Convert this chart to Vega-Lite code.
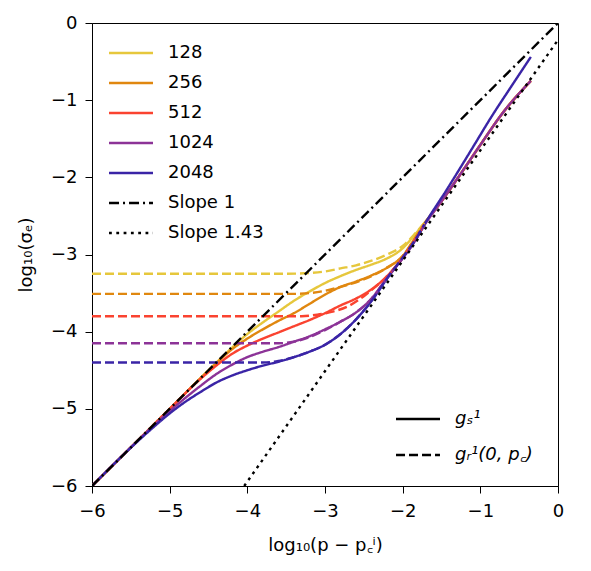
{
  "$schema": "https://vega.github.io/schema/vega-lite/v6.json",
  "width": 466,
  "height": 463,
  "autosize": {"type": "none"},
  "padding": {"left": 92, "top": 23, "right": 33, "bottom": 85},
  "background": "white",
  "config": {
    "font": "DejaVu Sans",
    "view": {"stroke": "black", "strokeWidth": 1},
    "axis": {"domainColor": "black", "tickColor": "black", "tickSize": 7, "labelFontSize": 18, "titleFontSize": 18, "labelColor": "black", "titleColor": "black", "titleFontWeight": "normal", "grid": false, "labelFont": "DejaVu Sans", "titleFont": "DejaVu Sans", "labelFlush": false, "format": "d"},
    "axisX": {"labelPadding": 9, "titlePadding": 16},
    "axisY": {"labelPadding": 8, "titlePadding": 15},
    "legend": {"labelFont": "DejaVu Sans", "labelFontSize": 18, "labelColor": "black", "padding": 0, "rowPadding": 12}
  },
  "datasets": {
    "slopes": [
      {"series": "Slope 1", "x": -6, "y": -6},
      {"series": "Slope 1", "x": 0, "y": 0},
      {"series": "Slope 1.43", "x": -4.04, "y": -6},
      {"series": "Slope 1.43", "x": 0, "y": -0.22}
    ],
    "curves": [
      {"series": "128", "kind": "gs", "x": -6, "y": -6},
      {"series": "128", "kind": "gs", "x": -5, "y": -5},
      {"series": "128", "kind": "gs", "x": -4.5, "y": -4.5},
      {"series": "128", "kind": "gs", "x": -4.2, "y": -4.21},
      {"series": "128", "kind": "gs", "x": -4.0, "y": -4.03},
      {"series": "128", "kind": "gs", "x": -3.8, "y": -3.88},
      {"series": "128", "kind": "gs", "x": -3.6, "y": -3.74},
      {"series": "128", "kind": "gs", "x": -3.4, "y": -3.6},
      {"series": "128", "kind": "gs", "x": -3.2, "y": -3.48},
      {"series": "128", "kind": "gs", "x": -3.0, "y": -3.37},
      {"series": "128", "kind": "gs", "x": -2.8, "y": -3.28},
      {"series": "128", "kind": "gs", "x": -2.6, "y": -3.2},
      {"series": "128", "kind": "gs", "x": -2.4, "y": -3.13},
      {"series": "128", "kind": "gs", "x": -2.2, "y": -3.05},
      {"series": "128", "kind": "gs", "x": -2.0, "y": -2.92},
      {"series": "128", "kind": "gs", "x": -1.85, "y": -2.75},
      {"series": "128", "kind": "gs", "x": -1.72, "y": -2.59},
      {"series": "128", "kind": "gs", "x": -1.5, "y": -2.31},
      {"series": "128", "kind": "gs", "x": -1.25, "y": -1.95},
      {"series": "128", "kind": "gs", "x": -1.0, "y": -1.58},
      {"series": "128", "kind": "gs", "x": -0.7, "y": -1.15},
      {"series": "128", "kind": "gs", "x": -0.35, "y": -0.75},

      {"series": "256", "kind": "gs", "x": -6, "y": -6},
      {"series": "256", "kind": "gs", "x": -5, "y": -5},
      {"series": "256", "kind": "gs", "x": -4.6, "y": -4.6},
      {"series": "256", "kind": "gs", "x": -4.4, "y": -4.41},
      {"series": "256", "kind": "gs", "x": -4.2, "y": -4.23},
      {"series": "256", "kind": "gs", "x": -4.0, "y": -4.09},
      {"series": "256", "kind": "gs", "x": -3.8, "y": -3.97},
      {"series": "256", "kind": "gs", "x": -3.6, "y": -3.86},
      {"series": "256", "kind": "gs", "x": -3.4, "y": -3.76},
      {"series": "256", "kind": "gs", "x": -3.2, "y": -3.64},
      {"series": "256", "kind": "gs", "x": -3.0, "y": -3.52},
      {"series": "256", "kind": "gs", "x": -2.8, "y": -3.42},
      {"series": "256", "kind": "gs", "x": -2.6, "y": -3.35},
      {"series": "256", "kind": "gs", "x": -2.4, "y": -3.27},
      {"series": "256", "kind": "gs", "x": -2.2, "y": -3.17},
      {"series": "256", "kind": "gs", "x": -2.0, "y": -3.02},
      {"series": "256", "kind": "gs", "x": -1.85, "y": -2.8},
      {"series": "256", "kind": "gs", "x": -1.72, "y": -2.6},
      {"series": "256", "kind": "gs", "x": -1.5, "y": -2.31},
      {"series": "256", "kind": "gs", "x": -1.25, "y": -1.95},
      {"series": "256", "kind": "gs", "x": -1.0, "y": -1.58},
      {"series": "256", "kind": "gs", "x": -0.7, "y": -1.15},
      {"series": "256", "kind": "gs", "x": -0.35, "y": -0.75},

      {"series": "512", "kind": "gs", "x": -6, "y": -6},
      {"series": "512", "kind": "gs", "x": -5, "y": -5},
      {"series": "512", "kind": "gs", "x": -4.8, "y": -4.8},
      {"series": "512", "kind": "gs", "x": -4.6, "y": -4.61},
      {"series": "512", "kind": "gs", "x": -4.4, "y": -4.44},
      {"series": "512", "kind": "gs", "x": -4.2, "y": -4.29},
      {"series": "512", "kind": "gs", "x": -4.0, "y": -4.18},
      {"series": "512", "kind": "gs", "x": -3.8, "y": -4.09},
      {"series": "512", "kind": "gs", "x": -3.6, "y": -4.01},
      {"series": "512", "kind": "gs", "x": -3.4, "y": -3.93},
      {"series": "512", "kind": "gs", "x": -3.2, "y": -3.85},
      {"series": "512", "kind": "gs", "x": -3.0, "y": -3.76},
      {"series": "512", "kind": "gs", "x": -2.8, "y": -3.66},
      {"series": "512", "kind": "gs", "x": -2.6, "y": -3.57},
      {"series": "512", "kind": "gs", "x": -2.4, "y": -3.45},
      {"series": "512", "kind": "gs", "x": -2.2, "y": -3.28},
      {"series": "512", "kind": "gs", "x": -2.0, "y": -3.04},
      {"series": "512", "kind": "gs", "x": -1.85, "y": -2.82},
      {"series": "512", "kind": "gs", "x": -1.72, "y": -2.61},
      {"series": "512", "kind": "gs", "x": -1.5, "y": -2.31},
      {"series": "512", "kind": "gs", "x": -1.25, "y": -1.95},
      {"series": "512", "kind": "gs", "x": -1.0, "y": -1.58},
      {"series": "512", "kind": "gs", "x": -0.7, "y": -1.15},
      {"series": "512", "kind": "gs", "x": -0.35, "y": -0.75},

      {"series": "1024", "kind": "gs", "x": -6, "y": -6},
      {"series": "1024", "kind": "gs", "x": -5.4, "y": -5.4},
      {"series": "1024", "kind": "gs", "x": -5.2, "y": -5.21},
      {"series": "1024", "kind": "gs", "x": -5.0, "y": -5.03},
      {"series": "1024", "kind": "gs", "x": -4.8, "y": -4.86},
      {"series": "1024", "kind": "gs", "x": -4.6, "y": -4.7},
      {"series": "1024", "kind": "gs", "x": -4.4, "y": -4.55},
      {"series": "1024", "kind": "gs", "x": -4.2, "y": -4.43},
      {"series": "1024", "kind": "gs", "x": -4.0, "y": -4.33},
      {"series": "1024", "kind": "gs", "x": -3.8, "y": -4.26},
      {"series": "1024", "kind": "gs", "x": -3.6, "y": -4.2},
      {"series": "1024", "kind": "gs", "x": -3.4, "y": -4.13},
      {"series": "1024", "kind": "gs", "x": -3.2, "y": -4.06},
      {"series": "1024", "kind": "gs", "x": -3.0, "y": -3.97},
      {"series": "1024", "kind": "gs", "x": -2.8, "y": -3.87},
      {"series": "1024", "kind": "gs", "x": -2.6, "y": -3.75},
      {"series": "1024", "kind": "gs", "x": -2.4, "y": -3.57},
      {"series": "1024", "kind": "gs", "x": -2.2, "y": -3.3},
      {"series": "1024", "kind": "gs", "x": -2.0, "y": -3.05},
      {"series": "1024", "kind": "gs", "x": -1.85, "y": -2.84},
      {"series": "1024", "kind": "gs", "x": -1.72, "y": -2.62},
      {"series": "1024", "kind": "gs", "x": -1.5, "y": -2.31},
      {"series": "1024", "kind": "gs", "x": -1.25, "y": -1.95},
      {"series": "1024", "kind": "gs", "x": -1.0, "y": -1.58},
      {"series": "1024", "kind": "gs", "x": -0.7, "y": -1.15},
      {"series": "1024", "kind": "gs", "x": -0.35, "y": -0.75},

      {"series": "2048", "kind": "gs", "x": -6, "y": -6},
      {"series": "2048", "kind": "gs", "x": -5.6, "y": -5.6},
      {"series": "2048", "kind": "gs", "x": -5.4, "y": -5.41},
      {"series": "2048", "kind": "gs", "x": -5.2, "y": -5.23},
      {"series": "2048", "kind": "gs", "x": -5.0, "y": -5.06},
      {"series": "2048", "kind": "gs", "x": -4.8, "y": -4.91},
      {"series": "2048", "kind": "gs", "x": -4.6, "y": -4.78},
      {"series": "2048", "kind": "gs", "x": -4.4, "y": -4.66},
      {"series": "2048", "kind": "gs", "x": -4.2, "y": -4.57},
      {"series": "2048", "kind": "gs", "x": -4.0, "y": -4.5},
      {"series": "2048", "kind": "gs", "x": -3.8, "y": -4.44},
      {"series": "2048", "kind": "gs", "x": -3.6, "y": -4.39},
      {"series": "2048", "kind": "gs", "x": -3.4, "y": -4.33},
      {"series": "2048", "kind": "gs", "x": -3.2, "y": -4.26},
      {"series": "2048", "kind": "gs", "x": -3.0, "y": -4.17},
      {"series": "2048", "kind": "gs", "x": -2.8, "y": -4.03},
      {"series": "2048", "kind": "gs", "x": -2.6, "y": -3.84},
      {"series": "2048", "kind": "gs", "x": -2.4, "y": -3.6},
      {"series": "2048", "kind": "gs", "x": -2.2, "y": -3.31},
      {"series": "2048", "kind": "gs", "x": -2.0, "y": -3.04},
      {"series": "2048", "kind": "gs", "x": -1.85, "y": -2.83},
      {"series": "2048", "kind": "gs", "x": -1.72, "y": -2.61},
      {"series": "2048", "kind": "gs", "x": -1.42, "y": -2.14},
      {"series": "2048", "kind": "gs", "x": -1.09, "y": -1.6},
      {"series": "2048", "kind": "gs", "x": -0.86, "y": -1.22},
      {"series": "2048", "kind": "gs", "x": -0.6, "y": -0.82},
      {"series": "2048", "kind": "gs", "x": -0.35, "y": -0.44},

      {"series": "128", "kind": "gr", "x": -6, "y": -3.25},
      {"series": "128", "kind": "gr", "x": -3.5, "y": -3.25},
      {"series": "128", "kind": "gr", "x": -3.2, "y": -3.24},
      {"series": "128", "kind": "gr", "x": -3.0, "y": -3.22},
      {"series": "128", "kind": "gr", "x": -2.8, "y": -3.18},
      {"series": "128", "kind": "gr", "x": -2.6, "y": -3.14},
      {"series": "128", "kind": "gr", "x": -2.4, "y": -3.08},
      {"series": "128", "kind": "gr", "x": -2.2, "y": -3.0},
      {"series": "128", "kind": "gr", "x": -2.0, "y": -2.89},
      {"series": "128", "kind": "gr", "x": -1.85, "y": -2.74},
      {"series": "128", "kind": "gr", "x": -1.72, "y": -2.59},

      {"series": "256", "kind": "gr", "x": -6, "y": -3.51},
      {"series": "256", "kind": "gr", "x": -3.4, "y": -3.51},
      {"series": "256", "kind": "gr", "x": -3.2, "y": -3.5},
      {"series": "256", "kind": "gr", "x": -3.0, "y": -3.47},
      {"series": "256", "kind": "gr", "x": -2.8, "y": -3.42},
      {"series": "256", "kind": "gr", "x": -2.6, "y": -3.36},
      {"series": "256", "kind": "gr", "x": -2.4, "y": -3.28},
      {"series": "256", "kind": "gr", "x": -2.2, "y": -3.17},
      {"series": "256", "kind": "gr", "x": -2.0, "y": -3.02},
      {"series": "256", "kind": "gr", "x": -1.85, "y": -2.8},
      {"series": "256", "kind": "gr", "x": -1.72, "y": -2.6},

      {"series": "512", "kind": "gr", "x": -6, "y": -3.8},
      {"series": "512", "kind": "gr", "x": -3.3, "y": -3.8},
      {"series": "512", "kind": "gr", "x": -3.1, "y": -3.78},
      {"series": "512", "kind": "gr", "x": -2.9, "y": -3.74},
      {"series": "512", "kind": "gr", "x": -2.7, "y": -3.67},
      {"series": "512", "kind": "gr", "x": -2.5, "y": -3.54},
      {"series": "512", "kind": "gr", "x": -2.4, "y": -3.46},
      {"series": "512", "kind": "gr", "x": -2.2, "y": -3.28},
      {"series": "512", "kind": "gr", "x": -2.0, "y": -3.04},
      {"series": "512", "kind": "gr", "x": -1.85, "y": -2.82},
      {"series": "512", "kind": "gr", "x": -1.72, "y": -2.61},

      {"series": "1024", "kind": "gr", "x": -6, "y": -4.15},
      {"series": "1024", "kind": "gr", "x": -3.6, "y": -4.15},
      {"series": "1024", "kind": "gr", "x": -3.4, "y": -4.13},
      {"series": "1024", "kind": "gr", "x": -3.2, "y": -4.07},
      {"series": "1024", "kind": "gr", "x": -3.0, "y": -3.98},
      {"series": "1024", "kind": "gr", "x": -2.8, "y": -3.87},
      {"series": "1024", "kind": "gr", "x": -2.6, "y": -3.75},
      {"series": "1024", "kind": "gr", "x": -2.4, "y": -3.57},
      {"series": "1024", "kind": "gr", "x": -2.2, "y": -3.3},
      {"series": "1024", "kind": "gr", "x": -2.0, "y": -3.05},
      {"series": "1024", "kind": "gr", "x": -1.85, "y": -2.84},
      {"series": "1024", "kind": "gr", "x": -1.72, "y": -2.62},

      {"series": "2048", "kind": "gr", "x": -6, "y": -4.4},
      {"series": "2048", "kind": "gr", "x": -3.8, "y": -4.4},
      {"series": "2048", "kind": "gr", "x": -3.6, "y": -4.38},
      {"series": "2048", "kind": "gr", "x": -3.4, "y": -4.33},
      {"series": "2048", "kind": "gr", "x": -3.2, "y": -4.26},
      {"series": "2048", "kind": "gr", "x": -3.0, "y": -4.17},
      {"series": "2048", "kind": "gr", "x": -2.8, "y": -4.03},
      {"series": "2048", "kind": "gr", "x": -2.6, "y": -3.84},
      {"series": "2048", "kind": "gr", "x": -2.4, "y": -3.6},
      {"series": "2048", "kind": "gr", "x": -2.2, "y": -3.31},
      {"series": "2048", "kind": "gr", "x": -2.0, "y": -3.04},
      {"series": "2048", "kind": "gr", "x": -1.85, "y": -2.83},
      {"series": "2048", "kind": "gr", "x": -1.72, "y": -2.61}
    ]
  },
  "layer": [
    {
      "layer": [
        {
          "data": {"name": "curves"},
          "transform": [{"filter": "datum.kind == 'gs'"}],
          "mark": {"type": "line", "strokeWidth": 2.4, "clip": true, "color": "black", "interpolate": "monotone"},
          "encoding": {
            "x": {"field": "x", "type": "quantitative", "scale": {"domain": [-6, 0], "nice": false, "zero": false}, "axis": {"values": [-6, -5, -4, -3, -2, -1, 0], "title": "log₁₀(p − p꜀ⁱ)"}},
            "y": {"field": "y", "type": "quantitative", "scale": {"domain": [-6, 0], "nice": false, "zero": false}, "axis": {"values": [-6, -5, -4, -3, -2, -1, 0], "title": "log₁₀(σₑ)"}},
            "color": {"field": "series", "type": "nominal", "scale": {"domain": ["128", "256", "512", "1024", "2048", "Slope 1", "Slope 1.43"], "range": ["#E6C73C", "#E0870F", "#FA4330", "#8C3397", "#3A24A6", "black", "black"]}, "legend": null},
            "strokeDash": {"field": "kind", "type": "nominal", "title": null, "scale": {"domain": ["gs", "gr"], "range": [[1, 0], [9, 4]]}, "legend": {"orient": "none", "legendX": 304, "legendY": 387, "symbolType": "M-3.14,0H3.14", "symbolSize": 196, "symbolOffset": 13, "labelOffset": 28, "symbolStrokeWidth": 2.4, "symbolStrokeColor": "black", "rowPadding": 18, "labelFontStyle": "italic", "labelExpr": "datum.label == 'gs' ? 'gₛ¹' : 'gᵣ¹(0, p꜀)'"}}
          }
        },
        {
          "data": {"name": "curves"},
          "transform": [{"filter": "datum.kind == 'gr'"}],
          "mark": {"type": "line", "strokeWidth": 2.4, "clip": true, "color": "black", "interpolate": "monotone"},
          "encoding": {
            "x": {"field": "x", "type": "quantitative"},
            "y": {"field": "y", "type": "quantitative"},
            "color": {"field": "series", "type": "nominal", "legend": null},
            "strokeDash": {"field": "kind", "type": "nominal", "title": null}
          }
        }
      ]
    },
    {
      "data": {"name": "slopes"},
      "mark": {"type": "line", "strokeWidth": 2.4, "clip": true},
      "encoding": {
        "x": {"field": "x", "type": "quantitative"},
        "y": {"field": "y", "type": "quantitative"},
        "color": {"field": "series", "type": "nominal", "title": null, "scale": {"domain": ["128", "256", "512", "1024", "2048", "Slope 1", "Slope 1.43"], "range": ["#E6C73C", "#E0870F", "#FA4330", "#8C3397", "#3A24A6", "black", "black"]}, "legend": {"orient": "none", "legendX": 17, "legendY": 21, "symbolType": "M-3.14,0H3.14", "symbolSize": 196, "symbolOffset": 13, "labelOffset": 28, "symbolStrokeWidth": 2.4, "rowPadding": 12}},
        "strokeDash": {"field": "series", "type": "nominal", "title": null, "scale": {"domain": ["128", "256", "512", "1024", "2048", "Slope 1", "Slope 1.43"], "range": [[1, 0], [1, 0], [1, 0], [1, 0], [1, 0], [10, 4, 2, 4], [2.8, 4.5]]}, "legend": {"orient": "none", "legendX": 17, "legendY": 21, "symbolType": "M-3.14,0H3.14", "symbolSize": 196, "symbolOffset": 13, "labelOffset": 28, "symbolStrokeWidth": 2.4, "rowPadding": 12}}
      }
    }
  ],
  "resolve": {"scale": {"color": "independent", "strokeDash": "independent"}, "legend": {"color": "independent", "strokeDash": "independent"}}
}
